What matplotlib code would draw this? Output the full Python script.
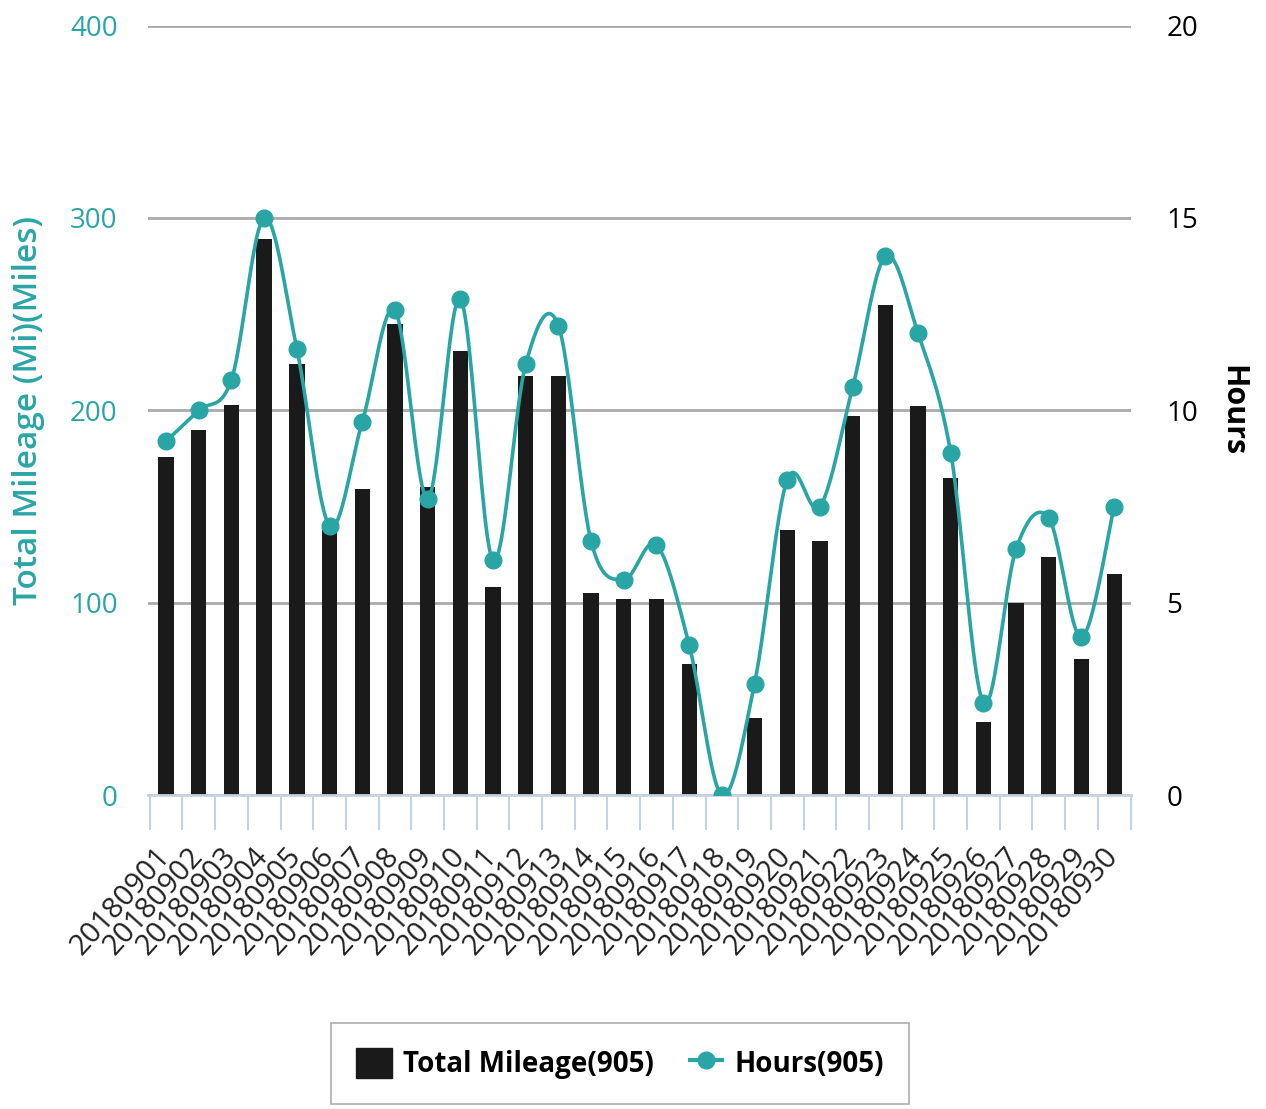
import numpy as np
import matplotlib.pyplot as plt
import matplotlib.transforms as mtransforms
from matplotlib.patches import Patch
from matplotlib.lines import Line2D

plt.rcParams['font.family'] = ['Open Sans', 'DejaVu Sans']

# Data
dates = ['201809%02d' % d for d in range(1, 31)]
mileage = [176, 190, 203, 289, 224, 141, 159, 245, 160, 231,
           108, 218, 218, 105, 102, 102, 68, 0, 40, 138,
           132, 197, 255, 202, 165, 38, 100, 124, 71, 115]
hours = [9.2, 10.0, 10.8, 15.0, 11.6, 7.0, 9.7, 12.6, 7.7, 12.9,
         6.1, 11.2, 12.2, 6.6, 5.6, 6.5, 3.9, 0.0, 2.9, 8.2,
         7.5, 10.6, 14.0, 12.0, 8.9, 2.4, 6.4, 7.2, 4.1, 7.5]

teal = '#2aa5a5'


def smooth(xs, ys, n=24):
    # Catmull-Rom curve through the points (drawing only)
    px = np.concatenate([[xs[0]], xs, [xs[-1]]])
    py = np.concatenate([[ys[0]], ys, [ys[-1]]])
    t = np.linspace(0, 1, n)[:, None]
    out_x, out_y = [], []
    for i in range(1, len(px) - 2):
        for p, out in ((px, out_x), (py, out_y)):
            p0, p1, p2, p3 = p[i - 1], p[i], p[i + 1], p[i + 2]
            seg = 0.5 * (2 * p1 + (-p0 + p2) * t
                         + (2 * p0 - 5 * p1 + 4 * p2 - p3) * t ** 2
                         + (-p0 + 3 * p1 - 3 * p2 + p3) * t ** 3)
            out.extend(seg.ravel())
    return np.array(out_x), np.array(out_y)


x = np.arange(len(dates))

fig = plt.figure(figsize=(12.66, 11.09), dpi=100)
ax = fig.add_axes([0.117, 0.283, 0.776, 0.694])
ax2 = ax.twinx()

ax.bar(x, mileage, width=0.47, color='#1a1a1a', zorder=2)
ax.set_ylim(0, 400)
ax.set_xlim(-0.55, 29.5)
ax.set_yticks([0, 100, 200, 300, 400])
ax.yaxis.grid(True, color='#aaaaaa', linewidth=2)
ax.set_axisbelow(True)
for s in ['top', 'left', 'right']:
    ax.spines[s].set_visible(False)
ax.spines['bottom'].set_color('#c5d2e0')
ax.spines['bottom'].set_linewidth(2)
ax.tick_params(axis='y', length=0, pad=22, labelsize=20, labelcolor=teal)
ax.set_ylabel('Total Mileage (Mi)(Miles)', color=teal, fontsize=24,
              fontweight='semibold', labelpad=18)

ax.set_xticks(x)
ax.set_xticks(np.arange(-0.5, 30, 1), minor=True)
ax.set_xticklabels(dates, rotation=48, ha='right', rotation_mode='anchor',
                   fontsize=21, color='#222222')
ax.tick_params(axis='x', which='major', length=0, pad=34)
ax.tick_params(axis='x', which='minor', length=25, width=1.5, color='#c5d2e0')
shift = mtransforms.ScaledTranslation(-8 / 72, 0, fig.dpi_scale_trans)
for lbl in ax.get_xticklabels():
    lbl.set_transform(lbl.get_transform() + shift)

sx, sy = smooth(x.astype(float), np.array(hours))
ax2.plot(sx, sy, color=teal, linewidth=2.6, zorder=3)
ax2.plot(x, hours, 'o', color=teal, markersize=12, zorder=4)
ax2.set_ylim(0, 20)
ax2.set_yticks([0, 5, 10, 15, 20])
for s in ax2.spines.values():
    s.set_visible(False)
ax2.tick_params(axis='y', length=0, pad=26, labelsize=20, labelcolor='black')
ax2.set_ylabel('Hours', rotation=-90, fontsize=22, fontweight='bold',
               labelpad=35)

handles = [Patch(facecolor='#1a1a1a', edgecolor='#1a1a1a'),
           Line2D([0], [0], color=teal, linestyle='--', linewidth=3,
                  marker='o', markersize=12)]
leg = fig.legend(handles, ['Total Mileage(905)', 'Hours(905)'],
                 loc='center', bbox_to_anchor=(0.49, 0.041), ncol=2,
                 prop={'weight': 'bold', 'size': 20},
                 frameon=True, fancybox=False, edgecolor='#999999',
                 borderpad=0.9, handlelength=1.3, handleheight=1.3,
                 handletextpad=0.4, columnspacing=1.2)
leg.get_frame().set_linewidth(1.2)

plt.savefig('out.png', dpi=100)
